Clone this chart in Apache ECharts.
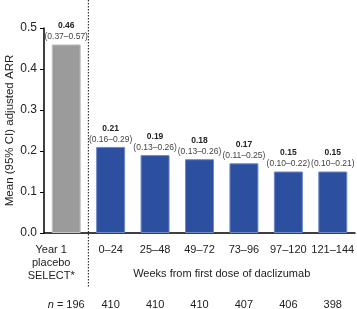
<!DOCTYPE html>
<html>
<head>
<meta charset="utf-8">
<script src="https://cdn.jsdelivr.net/npm/echarts@6/dist/echarts.min.js"></script>
<style>
  html, body { margin: 0; padding: 0; background: #fff; }
  #chart { width: 357px; height: 309px; }
</style>
</head>
<body>
<div id="chart"></div>
<script>
// data
const categories = ['Year 1\nplacebo\nSELECT*', '0–24', '25–48', '49–72', '73–96', '97–120', '121–144'];
const means = [0.46, 0.21, 0.19, 0.18, 0.17, 0.15, 0.15];
const ciText = ['0.37–0.57', '0.16–0.29', '0.13–0.26', '0.13–0.26', '0.11–0.25', '0.10–0.22', '0.10–0.21'];
const nValues = [196, 410, 410, 410, 407, 406, 398];

const FONT = 'Liberation Sans, Arial, sans-serif';

const chart = echarts.init(document.getElementById('chart'));

const barData = means.map((v, i) => ({
  value: v,
  itemStyle: i === 0
    ? { color: '#9b9b9b', borderColor: '#c4c4c4', borderWidth: 1 }
    : { color: '#2d4f9f', borderColor: '#6f8ac8', borderWidth: 1 }
}));

const option = {
  animation: false,
  textStyle: { fontFamily: FONT },
  grid: { left: 44, right: 2, top: 28, bottom: 76, outerBoundsMode: 'none' },
  xAxis: [
    {
      type: 'category',
      data: categories,
      axisLine: { lineStyle: { color: '#000', width: 1.5 } },
      axisTick: { alignWithLabel: true, length: 4, lineStyle: { color: '#000' } },
      axisLabel: {
        color: '#222', fontSize: 11, lineHeight: 13, margin: 10, interval: 0,
        // first label sits left of its tick in the original
        formatter: (v, i) => i === 0
          ? v.split('\n').map(s => '{p|' + s + '}').join('\n')
          : v,
        rich: { p: { fontSize: 11, lineHeight: 13, color: '#222', padding: [0, 30, 0, 0] } }
      }
    },
    {
      type: 'category',
      position: 'bottom',
      offset: 58,
      data: nValues.map((n, i) => i === 0 ? '{i|n} = ' + n : String(n)),
      axisLine: { show: false },
      axisTick: { show: false },
      axisLabel: {
        color: '#222', fontSize: 11, interval: 0,
        rich: { i: { fontStyle: 'italic', fontSize: 11, color: '#222' } }
      }
    }
  ],
  yAxis: {
    type: 'value',
    min: 0,
    max: 0.5,
    interval: 0.1,
    name: 'Mean (95% CI) adjusted ARR',
    nameLocation: 'middle',
    nameGap: 28,
    nameMoveOverlap: false,
    nameTextStyle: { color: '#222', fontSize: 11.5 },
    axisLine: { show: true, lineStyle: { color: '#000', width: 1.5 } },
    axisTick: { show: true, length: 4, lineStyle: { color: '#000' } },
    axisLabel: { color: '#222', fontSize: 12, margin: 7, formatter: v => v.toFixed(1) },
    splitLine: { show: false }
  },
  series: [
    {
      type: 'bar',
      data: barData,
      barWidth: 29,
      label: {
        show: true,
        position: 'top',
        distance: 2,
        formatter: p => '{a|' + means[p.dataIndex].toFixed(2) + '}\n{b|(' + ciText[p.dataIndex] + ')}',
        rich: {
          a: { fontSize: 8.5, fontWeight: 'bold', color: '#222', lineHeight: 11 },
          b: { fontSize: 8.5, color: '#444', lineHeight: 11 }
        }
      }
    }
  ]
};

chart.setOption(option);

// dotted divider between the placebo bar and the daclizumab bars, and the group caption
const x0 = chart.convertToPixel({ xAxisIndex: 0 }, 0);
const x1 = chart.convertToPixel({ xAxisIndex: 0 }, 1);
const xLast = chart.convertToPixel({ xAxisIndex: 0 }, categories.length - 1);
const divX = (x0 + x1) / 2;
chart.setOption({
  graphic: [
    {
      type: 'line',
      shape: { x1: divX, y1: 0, x2: divX, y2: 287 },
      style: { stroke: '#333', lineWidth: 1.2, lineDash: [1.5, 1.5] }
    },
    {
      type: 'text',
      x: (x1 + xLast) / 2,
      y: 274,
      style: {
        text: 'Weeks from first dose of daclizumab',
        fill: '#222',
        font: '11px ' + FONT,
        align: 'center',
        verticalAlign: 'middle'
      }
    }
  ]
});
</script>
</body>
</html>
